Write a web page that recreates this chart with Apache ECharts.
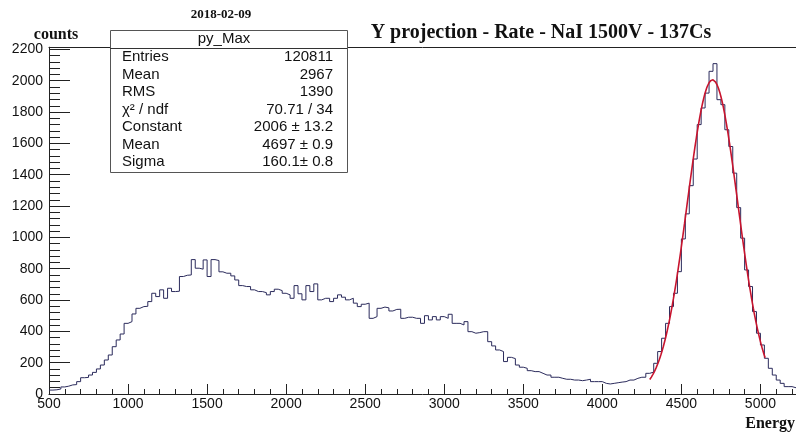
<!DOCTYPE html>
<html>
<head>
<meta charset="utf-8">
<script src="https://cdn.jsdelivr.net/npm/echarts@6/dist/echarts.min.js"></script>
<style>
  html, body { margin: 0; padding: 0; background: #ffffff; }
  #chart { width: 796px; height: 435px; }
</style>
</head>
<body>
<div id="chart"></div>
<script>
// Histogram binning: 25-unit bins starting at 500
const binLow = 500;
const binWidth = 25;

// Bin contents (counts per bin), bins 500-525, 525-550, ...
const counts = [
  25, 27, 32, 45, 50, 58, 60, 79, 104, 106,
  121, 138, 160, 185, 217, 249, 302, 345, 383, 451,
  462, 511, 547, 558, 560, 590, 643, 622, 665, 611,
  675, 654, 656, 750, 758, 760, 858, 803, 797, 856,
  750, 858, 852, 780, 771, 771, 754, 728, 692, 686,
  686, 665, 654, 654, 647, 633, 654, 669, 660, 643,
  633, 611, 692, 640, 601, 692, 654, 703, 601, 611,
  611, 590, 611, 633, 618, 601, 611, 580, 558, 573,
  580, 483, 494, 547, 555, 550, 530, 540, 541, 483,
  490, 490, 483, 483, 451, 500, 473, 494, 473, 494,
  483, 509, 451, 451, 441, 462, 398, 388, 392, 398,
  398, 334, 307, 281, 271, 207, 234, 226, 185, 171,
  164, 149, 143, 143, 132, 121, 121, 107, 107, 100,
  94, 94, 89, 89, 85, 89, 94, 79, 79, 79,
  68, 64, 68, 72, 76, 79, 89, 89, 100, 107,
  107, 132, 140, 196, 271, 356, 451, 558, 643, 781,
  990, 1150, 1330, 1500, 1720, 1826, 1921, 2060, 2109, 1879,
  1847, 1687, 1580, 1410, 1190, 995, 792, 686, 526, 388,
  313, 228, 164, 121, 89, 68, 47, 47, 40
];

// Gaussian fit result and the range it was fitted over
const fitConstant = 2006;
const fitMean = 4697;
const fitSigma = 160.1;
const fitRange = [4300, 5030];

// Statistics box rows
const statTitle = 'py_Max';
const statLabels = ['Entries', 'Mean', 'RMS', '\u03c7\u00b2 / ndf', 'Constant', 'Mean', 'Sigma'];
const statValues = ['120811', '2967', '1390', '70.71 / 34', '2006 \u00b1 13.2', '4697 \u00b1 0.9', '160.1\u00b1 0.8'];

// Texts
const plotTitle = 'Y projection - Rate - NaI 1500V - 137Cs';
const dateText = '2018-02-09';
const xName = 'Energy';
const yName = 'counts';

// Axis ranges
const xMin = 500, xMax = binLow + counts.length * binWidth, xStep = 500;
const yMin = 0, yMax = 2214, yStep = 200;

// Step outline points at the bin edges
const histPoints = counts.map((c, i) => [binLow + i * binWidth, c]);
histPoints.push([binLow + counts.length * binWidth, counts[counts.length - 1]]);

// Fitted gaussian sampled over the fit range
const fitPoints = [];
for (let x = fitRange[0]; x <= fitRange[1]; x += 5) {
  const z = (x - fitMean) / fitSigma;
  fitPoints.push([x, fitConstant * Math.exp(-0.5 * z * z)]);
}

const axisColor = '#222222';
const sans = 'Liberation Sans, Arial, sans-serif';
const serif = 'Liberation Serif, Times New Roman, serif';
const plainNumber = v => String(v);

// Stats box graphic
const boxX = 110, boxY = 30, boxW = 237, boxH = 142;
const rowY0 = 57, rowDy = 17.5;
const statGraphics = [
  { type: 'rect', shape: { x: boxX + 0.5, y: boxY + 0.5, width: boxW, height: boxH },
    style: { fill: '#ffffff', stroke: '#555555', lineWidth: 1 }, z: 10 },
  { type: 'line', shape: { x1: boxX, y1: 48.5, x2: boxX + boxW, y2: 48.5 },
    style: { stroke: '#333333', lineWidth: 1 }, z: 11 },
  { type: 'text', x: 224, y: 39, z: 11,
    style: { text: statTitle, font: '15px ' + sans, fill: '#111', textAlign: 'center', textVerticalAlign: 'middle' } }
];
statLabels.forEach((lab, i) => {
  statGraphics.push({ type: 'text', x: 122, y: rowY0 + i * rowDy, z: 11,
    style: { text: lab, font: '15px ' + sans, fill: '#111', textAlign: 'left', textVerticalAlign: 'middle' } });
  statGraphics.push({ type: 'text', x: 333, y: rowY0 + i * rowDy, z: 11,
    style: { text: statValues[i], font: '15px ' + sans, fill: '#111', textAlign: 'right', textVerticalAlign: 'middle' } });
});

const chart = echarts.init(document.getElementById('chart'), null, { renderer: 'canvas' });
chart.setOption({
  animation: false,
  backgroundColor: '#ffffff',
  grid: { left: 49, top: 47.2, width: 748.6, height: 346.8, containLabel: false },
  xAxis: [
    {
      type: 'value', min: xMin, max: xMax, interval: xStep, position: 'bottom',
      axisLine: { show: true, onZero: false, lineStyle: { color: axisColor, width: 1 } },
      axisTick: { show: true, inside: true, length: 10, lineStyle: { color: axisColor } },
      minorTick: { show: true, splitNumber: 5, length: 5, lineStyle: { color: axisColor } },
      splitLine: { show: false },
      axisLabel: { showMaxLabel: false, margin: 3, fontFamily: sans, fontSize: 14, color: '#111', formatter: plainNumber }
    },
    {
      type: 'value', min: xMin, max: xMax, position: 'top',
      axisLine: { show: true, onZero: false, lineStyle: { color: axisColor, width: 1 } },
      axisTick: { show: false }, axisLabel: { show: false }, splitLine: { show: false }
    }
  ],
  yAxis: {
    type: 'value', min: yMin, max: yMax, interval: yStep,
    axisLine: { show: true, onZero: false, lineStyle: { color: axisColor, width: 1 } },
    axisTick: { show: true, inside: true, length: 21, lineStyle: { color: axisColor } },
    minorTick: { show: true, splitNumber: 5, length: 11, lineStyle: { color: axisColor } },
    splitLine: { show: false },
    axisLabel: { showMaxLabel: false, margin: 6, fontFamily: sans, fontSize: 14, color: '#111', formatter: plainNumber }
  },
  series: [
    {
      type: 'line', step: 'end', data: histPoints, xAxisIndex: 0,
      showSymbol: false, symbol: 'none',
      lineStyle: { color: '#2b2b5c', width: 1 }, z: 3
    },
    {
      type: 'line', data: fitPoints, xAxisIndex: 0, smooth: false,
      showSymbol: false, symbol: 'none',
      lineStyle: { color: '#c8142e', width: 1.6 }, z: 4
    }
  ],
  graphic: [
    { type: 'text', x: 221, y: 15,
      style: { text: dateText, font: 'bold 13px ' + serif, fill: '#111', textAlign: 'center', textVerticalAlign: 'middle' } },
    { type: 'text', x: 541, y: 33,
      style: { text: plotTitle, font: 'bold 20px ' + serif, fill: '#111', textAlign: 'center', textVerticalAlign: 'middle' } },
    { type: 'text', x: 56, y: 35,
      style: { text: yName, font: 'bold 16px ' + serif, fill: '#111', textAlign: 'center', textVerticalAlign: 'middle' } },
    { type: 'text', x: 795, y: 424,
      style: { text: xName, font: 'bold 16px ' + serif, fill: '#111', textAlign: 'right', textVerticalAlign: 'middle' } }
  ].concat(statGraphics)
});
</script>
</body>
</html>
